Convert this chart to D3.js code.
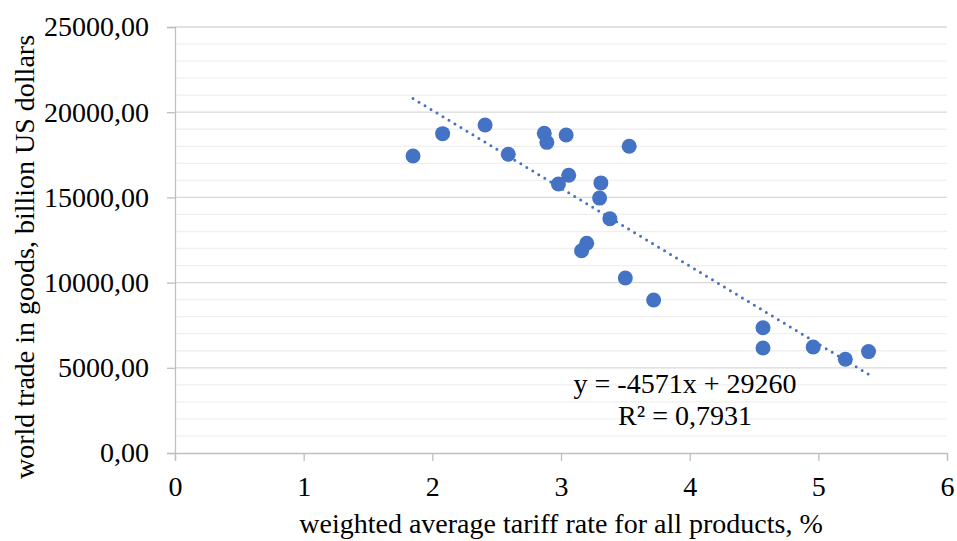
<!DOCTYPE html>
<html>
<head>
<meta charset="utf-8">
<script src="https://cdn.jsdelivr.net/npm/d3@7"></script>
<style>
  body { margin: 0; background: #fff; }
  text { font-family: "Liberation Serif", "Times New Roman", serif; fill: #000; }
</style>
</head>
<body>
<svg id="chart" width="957" height="541"></svg>
<script>
// tariff rate (%) and world trade in goods (bn USD)
const tariff = [1.85, 2.08, 2.41, 2.59, 2.87, 2.89, 3.04, 3.53, 3.06, 2.98, 3.31, 3.30, 3.38, 3.20, 3.16, 3.50, 3.72, 4.57, 4.57, 4.96, 5.21, 5.39]
const trade = [17430, 18740, 19250, 17530, 18760, 18230, 18660, 18000, 16300, 15790, 15850, 14960, 13750, 12310, 11870, 10270, 8980, 7350, 6160, 6220, 5500, 5950]
const slope = -4571, intercept = 29260
const xTicks = [0, 1, 2, 3, 4, 5, 6]
const yTicks = [0, 5000, 10000, 15000, 20000, 25000]
const yMinor = d3.range(0, 25001, 1000)

const svg = d3.select("#chart")
const plotL = 175, plotR = 947, plotT = 27, plotB = 453

const x = d3.scaleLinear().domain([0, 6]).range([plotL, plotR])
const y = d3.scaleLinear().domain([0, 25000]).range([plotB, plotT])
const fmt = d => d.toFixed(2).replace(".", ",")

// minor gridlines
svg.append("g").selectAll("line")
  .data(yMinor.filter(d => d % 5000 !== 0))
  .enter().append("line")
  .attr("x1", plotL).attr("x2", plotR)
  .attr("y1", d => y(d)).attr("y2", d => y(d))
  .attr("stroke", "#efefef").attr("stroke-width", 1.3)

// major gridlines
svg.append("g").selectAll("line")
  .data(yTicks.filter(d => d > 0))
  .enter().append("line")
  .attr("x1", plotL).attr("x2", plotR)
  .attr("y1", d => y(d)).attr("y2", d => y(d))
  .attr("stroke", "#d9d9d9").attr("stroke-width", 1.3)

// y axis
const yAxis = svg.append("g")
  .attr("transform", `translate(${plotL},0)`)
  .call(d3.axisLeft(y).tickValues(yTicks).tickFormat(fmt).tickSize(8).tickPadding(18))
yAxis.select(".domain").attr("stroke", "#bfbfbf").attr("stroke-width", 1.3)
yAxis.selectAll(".tick line").attr("stroke", "#bfbfbf").attr("stroke-width", 1.3)
yAxis.selectAll("text").style("font-size", "28px").style("font-family", "Liberation Serif")

// x axis
const xAxis = svg.append("g")
  .attr("transform", `translate(0,${plotB})`)
  .call(d3.axisBottom(x).tickValues(xTicks).tickFormat(d3.format("d")).tickSize(8).tickPadding(15))
xAxis.select(".domain").attr("stroke", "#bfbfbf").attr("stroke-width", 1.3)
xAxis.selectAll(".tick line").attr("stroke", "#bfbfbf").attr("stroke-width", 1.3)
xAxis.selectAll("text").style("font-size", "28px").style("font-family", "Liberation Serif")

// points
svg.append("g").selectAll("circle")
  .data(tariff.map((t, i) => [t, trade[i]]))
  .enter().append("circle")
  .attr("cx", d => x(d[0])).attr("cy", d => y(d[1]))
  .attr("r", 7.5)
  .attr("fill", "#4472c4")

// linear trendline
const x0 = d3.min(tariff), x1 = d3.max(tariff)
svg.append("line")
  .attr("x1", x(x0)).attr("y1", y(slope * x0 + intercept))
  .attr("x2", x(x1)).attr("y2", y(slope * x1 + intercept))
  .attr("stroke", "#4472c4")
  .attr("stroke-width", 3)
  .attr("stroke-linecap", "round")
  .attr("stroke-dasharray", "0 7")

// equation
svg.append("text")
  .attr("x", 685).attr("y", 393)
  .style("text-anchor", "middle").style("font-size", "28px")
  .text("y = -4571x + 29260")
svg.append("text")
  .attr("x", 685).attr("y", 425)
  .style("text-anchor", "middle").style("font-size", "28px")
  .text("R² = 0,7931")

// axis titles
svg.append("text")
  .attr("x", (plotL + plotR) / 2).attr("y", 533)
  .style("text-anchor", "middle").style("font-size", "28px")
  .text("weighted average tariff rate for all products, %")

svg.append("text")
  .attr("transform", `translate(34,257) rotate(-90)`)
  .style("text-anchor", "middle").style("font-size", "28px")
  .text("world trade in goods, billion US dollars")
</script>
</body>
</html>
